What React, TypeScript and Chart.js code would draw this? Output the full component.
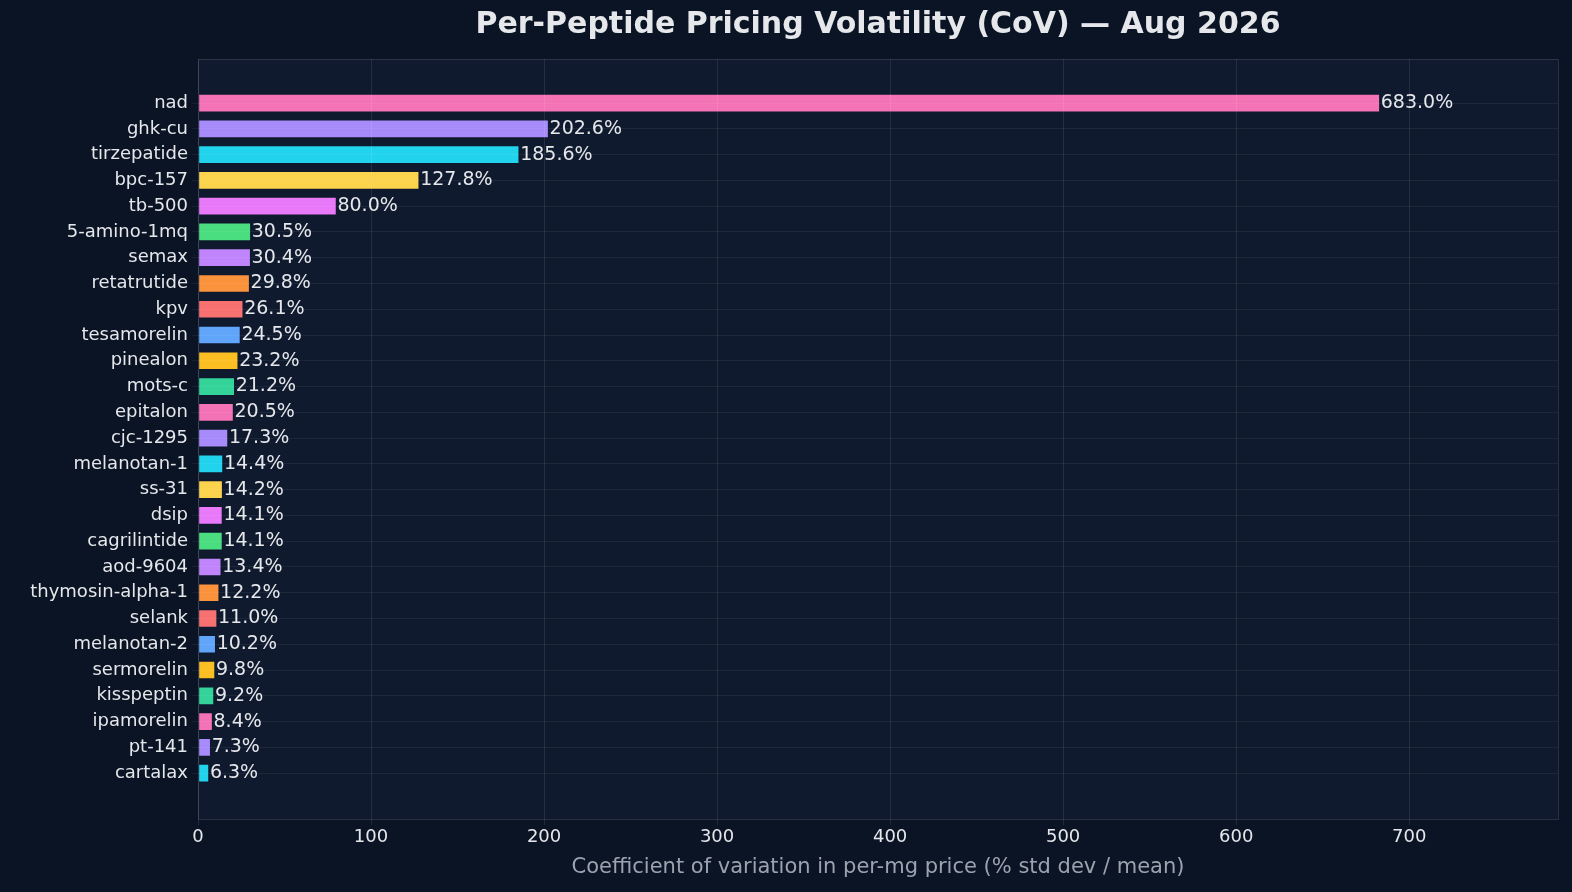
import React, { useEffect, useRef } from "react";
import { Chart, registerables } from "chart.js";
Chart.register(...registerables);

const peptides = ["nad","ghk-cu","tirzepatide","bpc-157","tb-500","5-amino-1mq","semax","retatrutide","kpv","tesamorelin","pinealon","mots-c","epitalon","cjc-1295","melanotan-1","ss-31","dsip","cagrilintide","aod-9604","thymosin-alpha-1","selank","melanotan-2","sermorelin","kisspeptin","ipamorelin","pt-141","cartalax"];
const cov = [683.0,202.6,185.6,127.8,80.0,30.5,30.4,29.8,26.1,24.5,23.2,21.2,20.5,17.3,14.4,14.2,14.1,14.1,13.4,12.2,11.0,10.2,9.8,9.2,8.4,7.3,6.3];
const palette = ["#f472b6","#a78bfa","#22d3ee","#fcd34d","#e879f9","#4ade80","#c084fc","#fb923c","#f87171","#60a5fa","#fbbf24","#34d399"];
const xTicks = [0,100,200,300,400,500,600,700];

export default function App() {
  const ref = useRef<HTMLCanvasElement>(null);
  useEffect(() => {
    document.body.style.margin = "0";
    document.body.style.background = "#0a1424";
    const font = "'DejaVu Sans', sans-serif";
    const bg = {
      id: "bg",
      beforeDraw(c: any) {
        const { ctx, chartArea: a } = c;
        ctx.save();
        ctx.fillStyle = "#0a1424";
        ctx.fillRect(0, 0, c.width, c.height);
        ctx.fillStyle = "#0f1a2e";
        ctx.fillRect(a.left, a.top, a.right - a.left, a.bottom - a.top);
        ctx.strokeStyle = "rgba(255,255,255,0.12)";
        ctx.strokeRect(a.left + 0.5, a.top + 0.5, a.right - a.left, a.bottom - a.top);
        ctx.fillStyle = "#e5e7eb";
        ctx.font = `bold 30px ${font}`;
        ctx.textAlign = "center";
        ctx.textBaseline = "middle";
        ctx.fillText("Per-Peptide Pricing Volatility (CoV) — Aug 2026", (a.left + a.right) / 2, 25);
        ctx.restore();
      },
      afterDatasetsDraw(c: any) {
        const { ctx } = c;
        const meta = c.getDatasetMeta(0);
        ctx.save();
        ctx.fillStyle = "#e5e7eb";
        ctx.font = `19px ${font}`;
        ctx.textBaseline = "middle";
        meta.data.forEach((b: any, i: number) => {
          ctx.fillText(cov[i].toFixed(1) + "%", b.x + 1, b.y);
        });
        ctx.restore();
      },
    };
    const chart = new Chart(ref.current!, {
      type: "bar",
      data: {
        datasets: [{
          data: cov.map((v, i) => ({ x: v, y: i })),
          backgroundColor: cov.map((_, i) => palette[i % palette.length]),
          borderColor: "rgba(15,26,46,0.7)",
          borderWidth: 1,
          borderSkipped: false,
          barThickness: 18,
        }],
      },
      options: {
        indexAxis: "y",
        animation: false,
        responsive: false,
        layout: { padding: { top: 59, right: 14, left: 0, bottom: 8 } },
        plugins: { legend: { display: false }, tooltip: { enabled: false } },
        scales: {
          x: {
            type: "linear", min: 0, max: 786,
            afterBuildTicks: (s: any) => { s.ticks = xTicks.map((v) => ({ value: v })); },
            afterFit: (s: any) => { s.height = 65; },
            grid: { color: "rgba(255,255,255,0.09)", z: 1, drawTicks: true, tickLength: 6 },
            border: { display: false },
            ticks: { color: "#e5e7eb", font: { size: 18, family: font }, padding: 2 },
            title: { display: true, text: "Coefficient of variation in per-mg price (% std dev / mean)", color: "#9ca3af", font: { size: 21, family: font }, padding: { top: 0 } },
          },
          y: {
            type: "linear", reverse: true, min: -1.71, max: 27.78, offset: false,
            afterBuildTicks: (s: any) => { s.ticks = peptides.map((_, i) => ({ value: i })); },
            afterFit: (s: any) => { s.width = 198; },
            grid: { color: "rgba(255,255,255,0.06)", z: 1, tickLength: 6, offset: false },
            border: { display: false },
            ticks: { color: "#e5e7eb", font: { size: 18, family: font }, padding: 4, autoSkip: false, callback: (v: any) => peptides[v] ?? "" },
          },
        },
      },
      plugins: [bg],
    } as any);
    return () => chart.destroy();
  }, []);
  return <canvas ref={ref} width={1572} height={892} style={{ display: "block" }} />;
}
